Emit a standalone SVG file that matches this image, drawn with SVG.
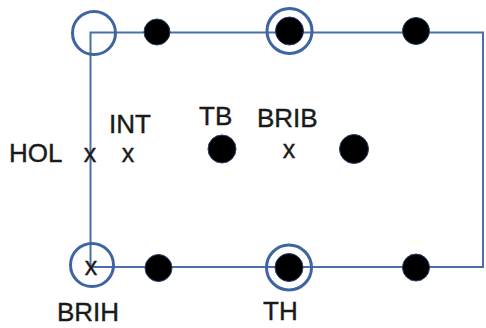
<svg xmlns="http://www.w3.org/2000/svg" width="486" height="328" viewBox="0 0 486 328">
<style>
.lbl{font-family:"Liberation Sans",Arial,sans-serif;font-size:26px;fill:#1a1a1a;stroke:#1a1a1a;stroke-width:0.4}
.mk{font-family:"Liberation Sans",Arial,sans-serif;font-size:25px;fill:#1a1a1a;stroke:#1a1a1a;stroke-width:0.4;text-anchor:middle}
.ring{fill:none;stroke:#3e64a3;stroke-width:3}
.dot{fill:#000;stroke:#2a3f6a;stroke-width:1}
.wire{fill:none;stroke:#4a6fab;stroke-width:2}
</style>
<rect width="486" height="328" fill="#fff"/>
<g id="connectors">
<path class="wire" d="M90.5,267 V32.5 H483 V267 H91"/>
</g>
<g id="HOL-ring"><circle class="ring" cx="94" cy="33" r="21.5"/></g>
<g id="top-dot1"><circle class="dot" cx="157" cy="32" r="13"/></g>
<g id="top-TH"><circle class="ring" cx="289.5" cy="31" r="22.5"/><circle class="dot" cx="289.5" cy="31" r="14"/></g>
<g id="top-dot2"><circle class="dot" cx="416" cy="31" r="13.5"/></g>
<g id="BRIH"><circle class="ring" cx="92" cy="265" r="21.5"/><text class="mk" x="91" y="275">x</text><text class="lbl" x="57" y="321">BRIH</text></g>
<g id="bottom-dot1"><circle class="dot" cx="158.5" cy="268" r="13.5"/></g>
<g id="TH"><circle class="ring" cx="289" cy="267.5" r="22.5"/><circle class="dot" cx="289" cy="267.5" r="14"/><text class="lbl" x="263" y="320">TH</text></g>
<g id="bottom-dot2"><circle class="dot" cx="416" cy="267.5" r="13.5"/></g>
<g id="HOL"><text class="lbl" x="9" y="162">HOL</text><text class="mk" x="90" y="162">x</text></g>
<g id="INT"><text class="lbl" x="109" y="133">INT</text><text class="mk" x="128" y="162">x</text></g>
<g id="TB"><text class="lbl" x="199" y="125">TB</text><circle class="dot" cx="222" cy="149" r="14"/></g>
<g id="BRIB"><text class="lbl" x="257" y="127">BRIB</text><text class="mk" x="289" y="158">x</text></g>
<g id="right-dot"><circle class="dot" cx="354" cy="149" r="14.5"/></g>
</svg>
